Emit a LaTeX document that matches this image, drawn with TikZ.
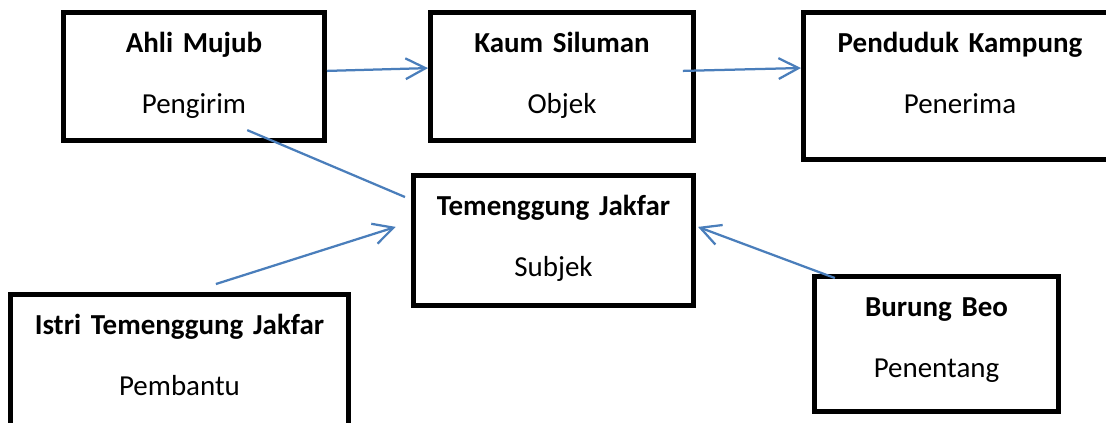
\documentclass[tikz,border=0pt]{standalone}
\usepackage{fontspec}
\setmainfont{Carlito}
\usepackage{tikz}
\usetikzlibrary{arrows.meta}
\definecolor{linkblue}{HTML}{4A7EBB}
\begin{document}
\begin{tikzpicture}[
		x=0.025cm, y=-0.025cm,
		role/.style 2 args={
			draw,
			line width=3.5pt,
			inner sep=0pt,
			align=center,
			text width=#1,
			text height=1.0125cm,
			text depth=#2,
			font=\fontsize{20.6pt}{42.7pt}\selectfont},
		link/.style={draw=linkblue, line width=1.6pt},
		arr/.style={link, -{Straight Barb[length=0.5cm, width=0.52cm]}}
		]
		\useasboundingbox (0,0) rectangle (1106,422);
		\clip (0,0) rectangle (1106,422);
		\node [role={6.525cm}{2.1875cm}] (ahli) at (194, 76.5) {\textbf{Ahli Mujub}\\Pengirim};
		\node [role={6.575cm}{2.1875cm}] (kaum) at (562, 76.5) {\textbf{Kaum Siluman}\\Objek};
		\node [role={7.825cm}{2.6625cm}] (penduduk) at (960, 86) {\textbf{Penduduk Kampung}\\Penerima};
		\node [role={7cm}{2.2375cm}] (temenggung) at (553.5, 240.5) {\textbf{Temenggung Jakfar}\\Subjek};
		\node [role={8.45cm}{2.375cm}] (istri) at (179.5, 362.25) {\textbf{Istri Temenggung Jakfar}\\Pembantu};
		\node [role={6.1cm}{2.3625cm}] (beo) at (936.5, 344) {\textbf{Burung Beo}\\Penentang};
		\draw [arr] ([yshift=0.14cm]ahli.east) -- ([yshift=0.21cm]kaum.west);
		\draw [arr] ([xshift=-0.33cm, yshift=0.14cm]kaum.east) -- ([yshift=0.45cm]penduduk.west);
		\draw [link] ([xshift=1.33cm, yshift=-1.34cm]ahli.center) -- ([xshift=-0.15cm, yshift=-0.6cm]temenggung.north west);
		\draw [arr] ([xshift=0.91cm, yshift=0.2cm]istri.north) -- ([xshift=-0.38cm, yshift=0.34cm]temenggung.west);
		\draw [arr] ([xshift=-2.54cm, yshift=-0.1cm]beo.north) -- ([xshift=0.05cm, yshift=0.34cm]temenggung.east);
		\end{tikzpicture}
\end{document}
